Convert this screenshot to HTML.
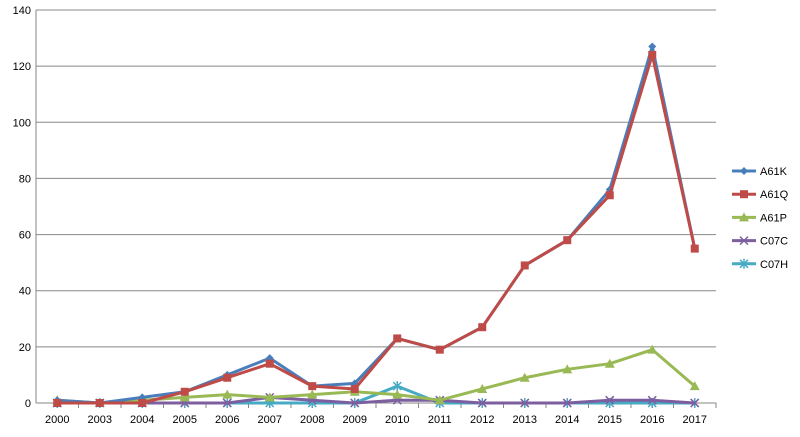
<!DOCTYPE html>
<html><head><meta charset="utf-8"><style>
body{margin:0;background:#fff;font-family:"Liberation Sans",sans-serif}
svg text{font-family:"Liberation Sans",sans-serif;font-size:11px;fill:#000}
</style></head><body>
<svg width="800" height="432">
<g id="grid"></g><g id="axes"></g><g id="series"></g><g id="legend"></g>
</svg>
<script>
const categories=["2000","2003","2004","2005","2006","2007","2008","2009","2010","2011","2012","2013","2014","2015","2016","2017"];
const A61K=[1,0,2,4,10,16,6,7,23,19,27,49,58,76,127,55];
const A61Q=[0,0,0,4,9,14,6,5,23,19,27,49,58,74,124,55];
const A61P=[1,0,1,2,3,2,3,4,3,1,5,9,12,14,19,6];
const C07C=[0,0,0,0,0,2,1,0,1,1,0,0,0,1,1,0];
const C07H=[0,0,0,0,0,0,0,0,6,0,0,0,0,0,0,0];
const yTicks=[0,20,40,60,80,100,120,140];
const seriesNames=["A61K","A61Q","A61P","C07C","C07H"];
const seriesData=[A61K,A61Q,A61P,C07C,C07H];
const colors=["#4a7ebb","#be4b48","#98b954","#7d5fa0","#46aac5"];
const markers=["diamond","square","triangle","x","star"];
const NS="http://www.w3.org/2000/svg";
const X0=36,X1=716,Y0=403,Y1=10;
const step=(X1-X0)/categories.length;
const xs=i=>X0+step*(i+0.5);
const ys=v=>Y0-(v/140)*(Y0-Y1);
function mk(t,a,p){const e=document.createElementNS(NS,t);for(const k in a)e.setAttribute(k,a[k]);p.appendChild(e);return e;}
const grid=document.getElementById('grid'),axes=document.getElementById('axes'),ser=document.getElementById('series'),leg=document.getElementById('legend');
yTicks.forEach(v=>{
 const l=mk('line',{x1:X0,x2:X1,y1:ys(v),y2:ys(v),stroke:v===0?'#868686':'#888','stroke-width':1},grid);
 
 
 const t=mk('text',{x:X0-5,y:ys(v)+4,'text-anchor':'end'},axes);t.textContent=v;
 
 
});
mk('line',{x1:X0,x2:X0,y1:Y1,y2:Y0,stroke:'#868686'},axes);
categories.forEach((c,i)=>{
 mk('line',{x1:X0+step*(i+1),x2:X0+step*(i+1),y1:Y0,y2:Y0+5,stroke:'#868686'},axes);
 const t=mk('text',{x:xs(i),y:Y0+20,'text-anchor':'middle'},axes);t.textContent=c;
 
 
});
function marker(type,x,y,c,p){
 if(type==='diamond')mk('polygon',{points:`${x},${y-4} ${x+4},${y} ${x},${y+4} ${x-4},${y}`,fill:c},p);
 else if(type==='square')mk('rect',{x:x-4,y:y-4,width:8,height:8,fill:c},p);
 else if(type==='triangle')mk('polygon',{points:`${x},${y-5} ${x+5},${y+4} ${x-5},${y+4}`,fill:c},p);
 else if(type==='x'){mk('path',{d:`M${x-4},${y-4}L${x+4},${y+4}M${x+4},${y-4}L${x-4},${y+4}`,stroke:c,'stroke-width':1.5},p);}
 else {mk('path',{d:`M${x-4},${y-4}L${x+4},${y+4}M${x+4},${y-4}L${x-4},${y+4}M${x},${y-5}L${x},${y+5}`,stroke:c,'stroke-width':1.5},p);}
}
[4,3,2,0,1].forEach(s=>{
 const g=mk('g',{},ser);
 
 
 const pts=seriesData[s].map((v,i)=>xs(i)+','+ys(v)).join(' ');
 mk('polyline',{points:pts,fill:'none',stroke:colors[s],'stroke-width':3,'stroke-linejoin':'round'},g);
 seriesData[s].forEach((v,i)=>marker(markers[s],xs(i),ys(v),colors[s],g));
});
seriesNames.forEach((n,s)=>{
 const y=171+s*23.2;
 const g=mk('g',{},leg);
 
 
 mk('line',{x1:732,x2:756,y1:y,y2:y,stroke:colors[s],'stroke-width':3},g);
 marker(markers[s],744,y,colors[s],g);
 const t=mk('text',{x:760,y:y+4},g);t.textContent=n;
});
</script>
</body></html>
